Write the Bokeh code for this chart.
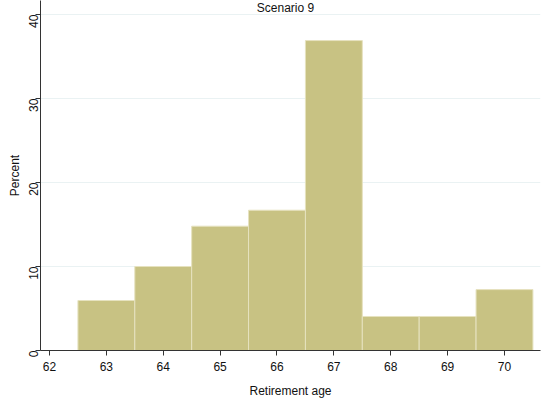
import math
from bokeh.plotting import figure
from bokeh.models import Label, FixedTicker
from bokeh.embed import file_html
from bokeh.resources import INLINE

ages = [63, 64, 65, 66, 67, 68, 69, 70]
percent = [5.95, 10.0, 14.8, 16.7, 36.9, 4.05, 4.05, 7.25]
x_ticks = [62, 63, 64, 65, 66, 67, 68, 69, 70]
y_ticks = [0, 10, 20, 30, 40]
title_text = "Scenario 9"

FONT = "Liberation Sans"

p = figure(width=543, height=400, output_backend="svg", toolbar_location=None,
           x_range=(61.842, 70.633), y_range=(0, 41.67),
           min_border_left=40, min_border_right=3, min_border_top=0, min_border_bottom=50)
p.outline_line_color = None
p.background_fill_color = "white"
p.border_fill_color = "white"

left = [a - 0.5 for a in ages]
right = [a + 0.5 for a in ages]
p.quad(left=left, right=right, bottom=0, top=percent,
       fill_color="#C8C283", line_color="#E6E2BF", line_width=1)

p.xgrid.visible = False
p.ygrid.grid_line_color = "#EAF2F3"
p.ygrid.ticker = FixedTicker(ticks=y_ticks)

p.xaxis.ticker = FixedTicker(ticks=x_ticks)
p.yaxis.ticker = FixedTicker(ticks=y_ticks)
for ax in (p.xaxis, p.yaxis):
    ax.axis_line_color = "#333333"
    ax.major_tick_line_color = "#333333"
    ax.major_tick_out = 5
    ax.major_tick_in = 0
    ax.minor_tick_line_color = None
    ax.major_label_text_font = FONT
    ax.major_label_text_font_size = "12px"
    ax.major_label_text_color = "#111111"
    ax.axis_label_text_font = FONT
    ax.axis_label_text_font_size = "12px"
    ax.axis_label_text_font_style = "normal"
    ax.axis_label_text_color = "#111111"

p.xaxis.axis_label = "Retirement age"
p.xaxis.major_label_standoff = 6
p.xaxis.axis_label_standoff = 10
p.yaxis.axis_label = "Percent"
p.yaxis.major_label_orientation = math.pi / 2
p.yaxis.major_label_standoff = 2
p.yaxis.axis_label_standoff = 0

p.add_layout(Label(x=66.15, y=40.72, text=title_text, text_align="center",
                   text_baseline="middle", text_font=FONT, text_font_size="12px",
                   text_color="#111111"))

open("out.html", "w").write(file_html(p, INLINE))
